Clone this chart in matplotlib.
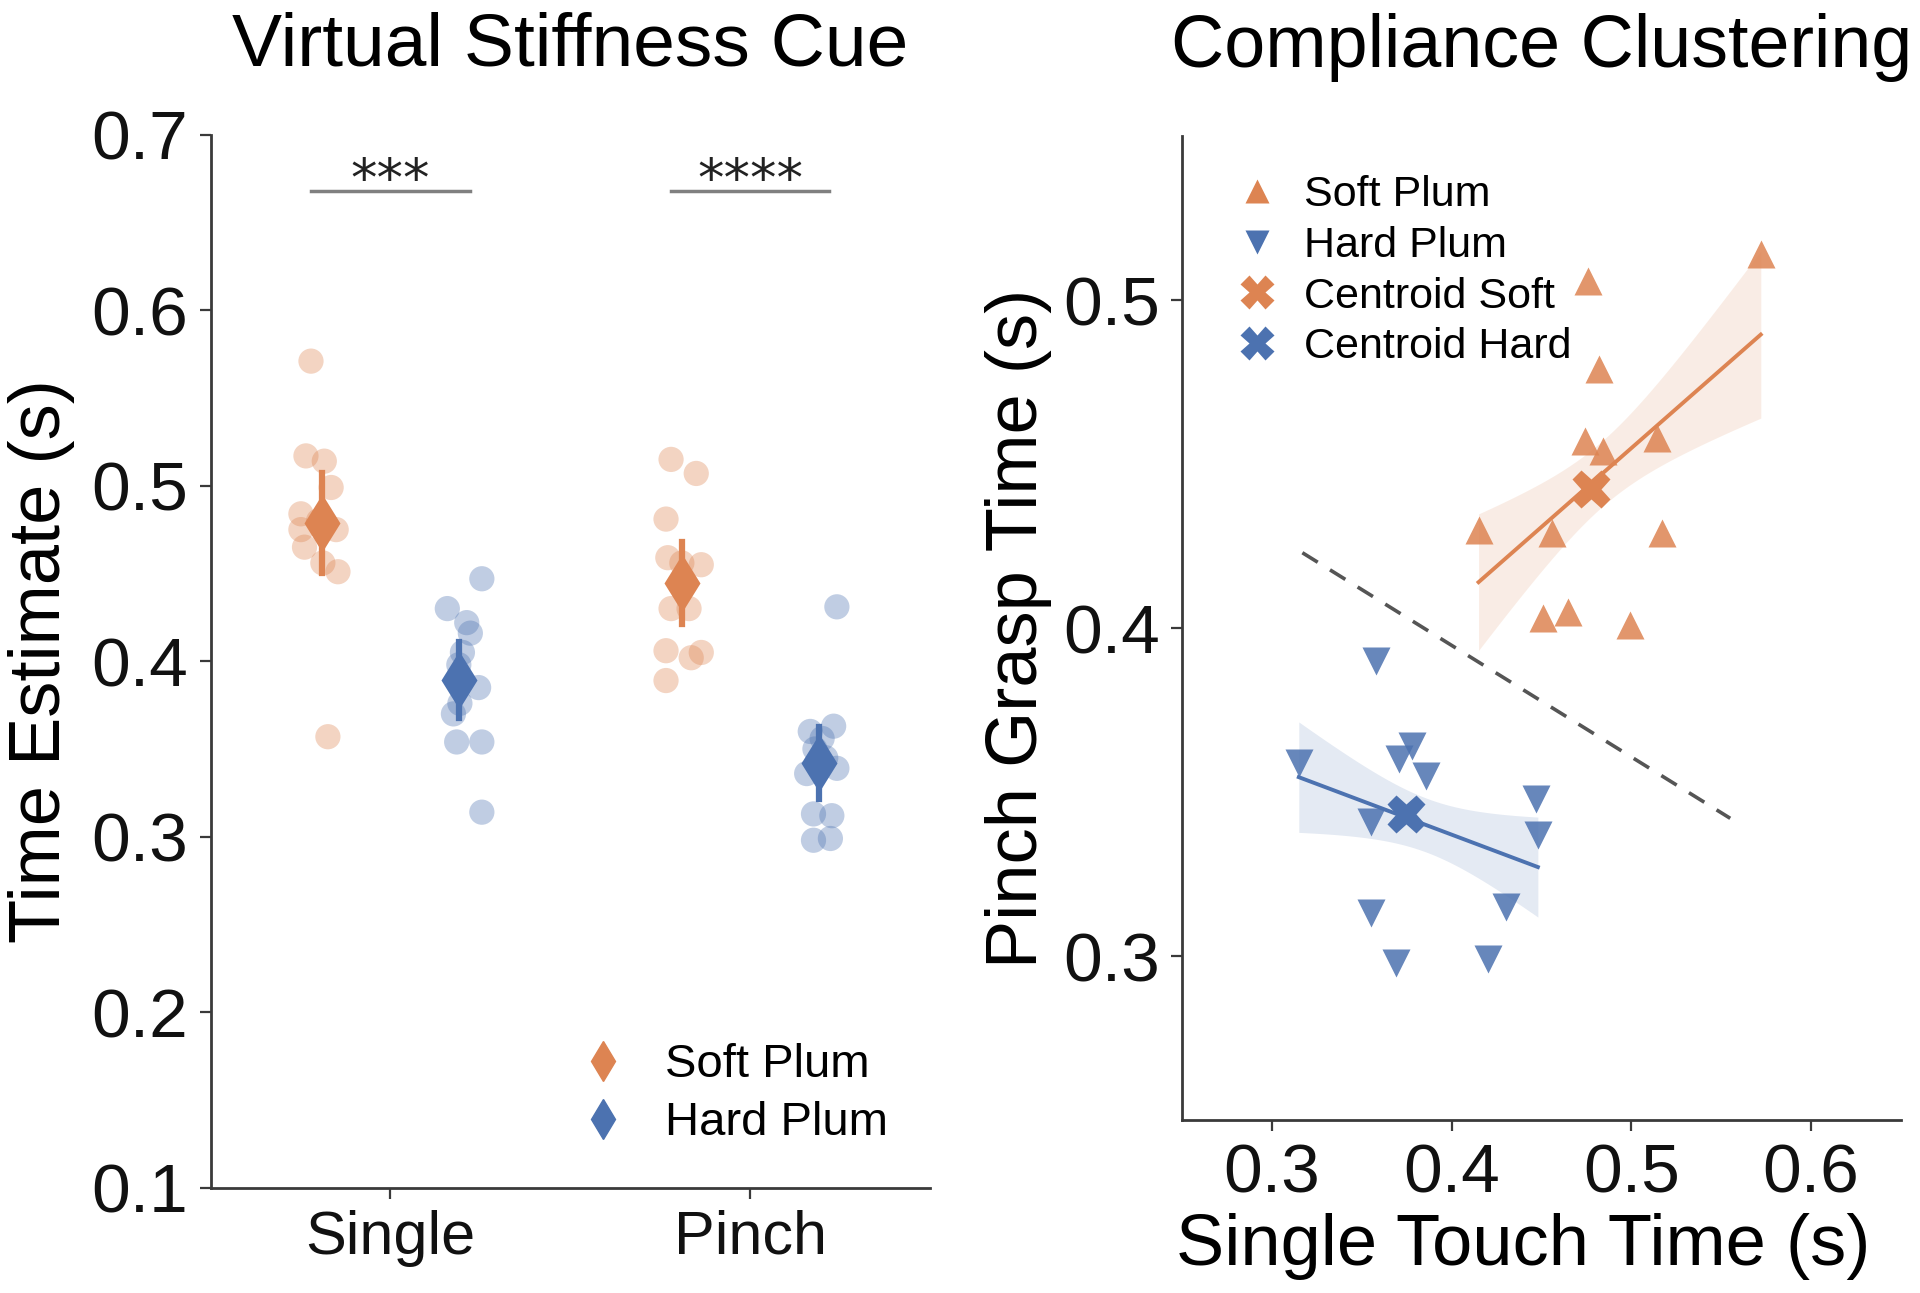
import numpy as np
import matplotlib
matplotlib.use('Agg')
import matplotlib.pyplot as plt

plt.rcParams['font.family'] = ['Liberation Sans', 'DejaVu Sans']

# left panel: per-subject time estimates (s)
categories = ['Single', 'Pinch']
soft_single = [0.571, 0.517, 0.514, 0.499, 0.484, 0.475, 0.475, 0.465, 0.456, 0.451, 0.357, 0.480]
hard_single = [0.447, 0.430, 0.422, 0.416, 0.385, 0.370, 0.376, 0.354, 0.354, 0.314, 0.398, 0.405]
soft_pinch = [0.515, 0.507, 0.481, 0.459, 0.455, 0.430, 0.430, 0.406, 0.402, 0.405, 0.389, 0.456]
hard_pinch = [0.431, 0.363, 0.360, 0.339, 0.336, 0.313, 0.312, 0.298, 0.299, 0.356, 0.350, 0.345]
# strip jitter
jit_soft_single = [-0.031, -0.045, 0.006, 0.025, -0.059, 0.039, -0.059, -0.049, 0.002, 0.044, 0.016, -0.01]
jit_hard_single = [0.064, -0.032, 0.022, 0.032, 0.055, -0.015, 0.003, -0.006, 0.064, 0.064, 0.0, 0.01]
jit_soft_pinch = [-0.03, 0.04, -0.044, -0.039, 0.054, -0.03, 0.02, -0.044, 0.026, 0.054, -0.044, 0.0]
jit_hard_pinch = [0.051, 0.042, -0.023, 0.051, -0.033, -0.014, 0.037, -0.014, 0.033, 0.01, -0.01, 0.02]
sig_labels = ['***', '****']
sig_level = 0.668

# right panel: single touch time vs pinch grasp time
soft_x = [0.572, 0.476, 0.482, 0.474, 0.484, 0.514, 0.415, 0.456, 0.517, 0.451, 0.465, 0.499]
soft_y = [0.514, 0.506, 0.479, 0.457, 0.454, 0.458, 0.430, 0.429, 0.429, 0.403, 0.405, 0.401]
hard_x = [0.358, 0.315, 0.378, 0.371, 0.386, 0.355, 0.447, 0.448, 0.355, 0.430, 0.369, 0.420]
hard_y = [0.390, 0.359, 0.364, 0.360, 0.355, 0.341, 0.348, 0.337, 0.313, 0.315, 0.298, 0.299]
centroid_soft = (0.4776, 0.4425)
centroid_hard = (0.3749, 0.3433)
boundary_x = [0.317, 0.555]
boundary_y = [0.423, 0.342]

ORANGE = '#DD8452'
BLUE = '#4C72B0'
SPINE = '#3a3a3a'

fig = plt.figure(figsize=(19.2, 12.93), dpi=100)

def style_axes(ax):
    for s in ['top', 'right']:
        ax.spines[s].set_visible(False)
    for s in ['left', 'bottom']:
        ax.spines[s].set_color(SPINE)
        ax.spines[s].set_linewidth(2)
    ax.tick_params(axis='both', length=8, width=1.6, color=SPINE, labelcolor='#111111', pad=8)

# ---------- left ----------
ax1 = fig.add_axes([0.1097, 0.0814, 0.3747, 0.8144])
style_axes(ax1)
dodge = 0.19
groups = [
    (0, -dodge, soft_single, jit_soft_single, ORANGE),
    (0, dodge, hard_single, jit_hard_single, BLUE),
    (1, -dodge, soft_pinch, jit_soft_pinch, ORANGE),
    (1, dodge, hard_pinch, jit_hard_pinch, BLUE),
]
for cat, off, vals, jit, col in groups:
    vals = np.array(vals)
    xs = cat + off + np.array(jit)
    ax1.scatter(xs, vals, s=330, color=col, alpha=0.35, edgecolors='none', zorder=2)
    m = vals.mean()
    ci = 1.96 * vals.std(ddof=1) / np.sqrt(len(vals))
    ax1.plot([cat + off, cat + off], [m - ci, m + ci], color=col, lw=4.5, zorder=3)
    ax1.plot(cat + off, m, marker='d', ms=30, color=col, mec='none', zorder=4)

for i, lab in enumerate(sig_labels):
    ax1.plot([i - 0.22, i + 0.22], [sig_level, sig_level], color='#808080', lw=2.5)
    ax1.text(i, sig_level - 0.003, lab, ha='center', va='baseline', fontsize=38,
             family='DejaVu Sans', color='#222222')

ax1.set_xlim(-0.5, 1.5)
ax1.set_ylim(0.1, 0.7)
ax1.set_xticks([0, 1])
ax1.set_xticklabels(categories, fontsize=44)
ax1.set_yticks(np.arange(0.1, 0.71, 0.1))
ax1.set_yticklabels(['%.1f' % v for v in np.arange(0.1, 0.71, 0.1)], fontsize=50)
ax1.set_ylabel('Time Estimate (s)', fontsize=52, labelpad=12)
ax1.set_title('Virtual Stiffness Cue', fontsize=54, pad=50)

h_soft = ax1.plot([], [], 'd', ms=20, color=ORANGE, ls='none')[0]
h_hard = ax1.plot([], [], 'd', ms=20, color=BLUE, ls='none')[0]
ax1.legend([h_soft, h_hard], ['Soft Plum', 'Hard Plum'], loc='lower right', frameon=False,
           fontsize=34, handlelength=1.0, handletextpad=0.8, labelspacing=0.3,
           bbox_to_anchor=(1.0, 0.0))

# ---------- right ----------
ax2 = fig.add_axes([0.6156, 0.1338, 0.3745, 0.7608])
style_axes(ax2)

def reg_band(ax, x, y, col):
    x = np.array(x); y = np.array(y)
    b, a = np.polyfit(x, y, 1)
    xx = np.linspace(x.min(), x.max(), 100)
    yy = a + b * xx
    n = len(x)
    resid = y - (a + b * x)
    s = np.sqrt((resid ** 2).sum() / (n - 2))
    sxx = ((x - x.mean()) ** 2).sum()
    se = s * np.sqrt(1.0 / n + (xx - x.mean()) ** 2 / sxx)
    ax.fill_between(xx, yy - se, yy + se, color=col, alpha=0.15, lw=0, zorder=1)
    ax.plot(xx, yy, color=col, lw=2.8, zorder=3)

reg_band(ax2, soft_x, soft_y, ORANGE)
reg_band(ax2, hard_x, hard_y, BLUE)
ax2.plot(soft_x, soft_y, '^', ms=20, color=ORANGE, alpha=0.85, mec='none', ls='none',
         label='Soft Plum', zorder=2)
ax2.plot(hard_x, hard_y, 'v', ms=20, color=BLUE, alpha=0.85, mec='none', ls='none',
         label='Hard Plum', zorder=2)
ax2.plot(*centroid_soft, 'X', ms=28, color=ORANGE, mec='none', ls='none',
         label='Centroid Soft', zorder=4)
ax2.plot(*centroid_hard, 'X', ms=28, color=BLUE, mec='none', ls='none',
         label='Centroid Hard', zorder=4)
ax2.plot(boundary_x, boundary_y, ls=(0, (5, 4)), color='#555555', lw=2.6, zorder=2)

ax2.set_xlim(0.25, 0.65)
ax2.set_ylim(0.25, 0.55)
ax2.set_xticks([0.3, 0.4, 0.5, 0.6])
ax2.set_xticklabels(['0.3', '0.4', '0.5', '0.6'], fontsize=50)
ax2.set_yticks([0.3, 0.4, 0.5])
ax2.set_yticklabels(['0.3', '0.4', '0.5'], fontsize=50)
ax2.set_xlabel('Single Touch Time (s)', fontsize=52, labelpad=4)
ax2.xaxis.set_label_coords(0.475, -0.095)
ax2.set_ylabel('Pinch Grasp Time (s)', fontsize=52, labelpad=8)
ax2.set_title('Compliance Clustering', fontsize=53, pad=50)
leg = ax2.legend(loc='upper left', frameon=False, fontsize=31, handlelength=1.0,
                 handletextpad=0.6, labelspacing=0.25, bbox_to_anchor=(0.02, 1.0),
                 markerscale=0.85)
for h in leg.legend_handles:
    h.set_alpha(1)

fig.savefig('out.png', dpi=100)
